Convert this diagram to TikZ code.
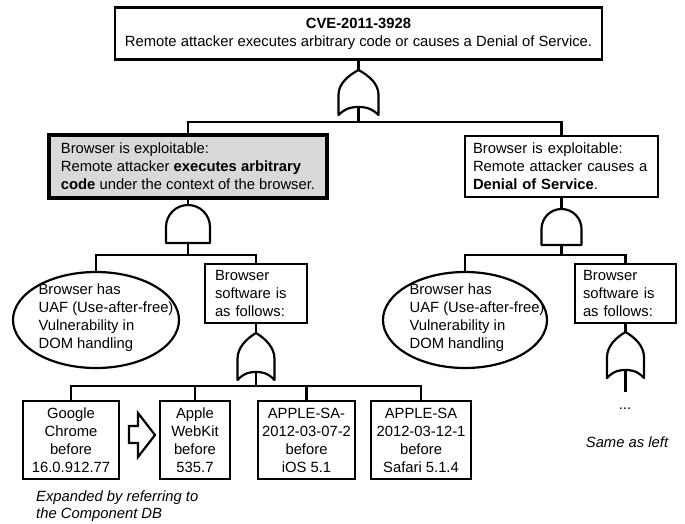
\documentclass[tikz,border=0pt]{standalone}
\usepackage{fontspec}
\setmainfont{Liberation Sans}
\usetikzlibrary{shapes.geometric}

\tikzset{
  base/.style={font=\fontsize{14.8}{18}\selectfont},
  box/.style={base, draw, line width=2.6pt, rectangle, inner sep=0pt, align=center},
  lbox/.style={box, align=left},
  graybox/.style={lbox, fill=gray!30, line width=3.8pt},
  oval/.style={draw, line width=2.2pt, ellipse, inner sep=0pt},
  txt/.style={base, inner sep=0pt},
  note/.style={base, font=\fontsize{14.8}{17}\selectfont\itshape, inner sep=0pt},
  conn/.style={line width=2.2pt},
  gate/.style={line width=2.2pt, line join=round},
  % OR gate: width / height / depth of the concave base; origin at the tip
  pics/orgate/.style args={#1/#2/#3}{code={
    \draw[gate] (0,0)
      .. controls (-0.25*#1,0.12*#2) and (-0.5*#1,0.3*#2) .. (-0.5*#1,0.55*#2)
      -- (-0.5*#1,#2)
      .. controls (-0.3*#1,#2-#3) and (-0.12*#1,#2-#3) .. (0,#2-#3)
      .. controls (0.12*#1,#2-#3) and (0.3*#1,#2-#3) .. (0.5*#1,#2)
      -- (0.5*#1,0.55*#2)
      .. controls (0.5*#1,0.3*#2) and (0.25*#1,0.12*#2) .. (0,0) -- cycle;
    \coordinate (-in) at (0,0);
    \coordinate (-out) at (0,#2-#3);
  }},
  % AND gate: width / height; origin at the top of the dome
  pics/andgate/.style args={#1/#2}{code={
    \draw[gate] (-0.5*#1,#2) -- (-0.5*#1,0.5*#1) arc (180:360:0.5*#1)
      -- (0.5*#1,#2) -- cycle;
    \coordinate (-in) at (0,0);
    \coordinate (-out) at (0,#2);
  }}
}

\begin{document}
\begin{tikzpicture}[x=1pt,y=-1pt]
\useasboundingbox (0,0) rectangle (685,523);

% top event
\node[box, minimum width=487, minimum height=52] (top) at (358.5,33.5)
  {\textbf{CVE-2011-3928}\\Remote attacker executes arbitrary code or causes a Denial of Service.};
\pic (g0) at (358.5,70) {orgate={40/45/8}};
\coordinate (j0) at (358.5,122);

% second level
\node[graybox, minimum width=278, minimum height=63] (exA) at (188,166.5)
  {Browser is exploitable:\\Remote attacker \textbf{executes arbitrary}\\\textbf{code} under the context of the browser.};
\node[lbox, text width=177, inner xsep=8pt, minimum height=61] (exD) at (561.5,166.5)
  {Browser is exploitable:\\Remote attacker causes a\\\textbf{Denial of Service}.};

\pic (gA) at (188,205) {andgate={44/38}};
\pic (gD) at (561.5,209) {andgate={40/36}};
\coordinate (j1) at (188,255);
\coordinate (j3) at (561.5,255);

% third level, left branch
\node[oval, minimum width=166, minimum height=96] (uafL) at (96,320) {};
\node[txt, align=left] (uafLt) at (106,317.5)
  {Browser has\\UAF (Use-after-free)\\Vulnerability in\\DOM handling};
\node[lbox, text width=82, inner xsep=10pt, minimum height=59] (swL) at (256,293.5)
  {Browser\\software is\\as follows:};
\pic (gL) at (256,333) {orgate={37/47/8}};
\coordinate (j2) at (256,386);

% third level, right branch
\node[oval, minimum width=164, minimum height=96] (uafR) at (465,320) {};
\node[txt, align=left] (uafRt) at (477,317.5)
  {Browser has\\UAF (Use-after-free)\\Vulnerability in\\DOM handling};
\node[lbox, text width=85, inner xsep=8pt, minimum height=59] (swR) at (625.5,293.5)
  {Browser\\software is\\as follows:};
\pic (gR) at (625.5,332) {orgate={37/46/8}};
\coordinate (endR) at (625.5,392);
\node[txt] (dots) at (625,409) {...};
\node[note] (same) at (627,442) {Same as left};

% software versions
\node[box, minimum width=96, minimum height=78] (b1) at (71,440)
  {Google\\Chrome\\before\\16.0.912.77};
\node[box, minimum width=70, minimum height=78] (b2) at (195,440)
  {Apple\\WebKit\\before\\535.7};
\node[box, minimum width=97, minimum height=78] (b3) at (306.5,440)
  {APPLE-SA-\\2012-03-07-2\\before\\iOS 5.1};
\node[box, minimum width=100, minimum height=78] (b4) at (421,440)
  {APPLE-SA\\2012-03-12-1\\before\\Safari 5.1.4};

% expansion arrow
\draw[line width=2.2pt, line join=miter]
  (129,426) -- (138,426) -- (138,413) -- (155,435) -- (138,457) -- (138,443) -- (129,443) -- cycle;
\node[note, align=left, anchor=west] (exp) at (36,506.5)
  {Expanded by referring to\\the Component DB};

% connectors
\draw[conn] (top.south) -- (g0-in);
\draw[conn] (g0-out) -- (j0);
\draw[conn] (exA.north) |- (j0) -| (exD.north);

\draw[conn] (exA.south) -- (gA-in);
\draw[conn] (gA-out) -- (j1);
\draw[conn] (uafL.north) |- (j1) -| (swL.north);

\draw[conn] (exD.south) -- (gD-in);
\draw[conn] (gD-out) -- (j3);
\draw[conn] (uafR.north) |- (j3) -| (swR.north);

\draw[conn] (swL.south) -- (gL-in);
\draw[conn] (gL-out) -- (j2);
\draw[conn] (b1.north) |- (j2) -| (b4.north);
\draw[conn] (b2.north) -- (b2.north |- j2);
\draw[conn] (b3.north) -- (b3.north |- j2);

\draw[conn] (swR.south) -- (gR-in);
\draw[conn] (gR-out) -- (endR);
\end{tikzpicture}
\end{document}
